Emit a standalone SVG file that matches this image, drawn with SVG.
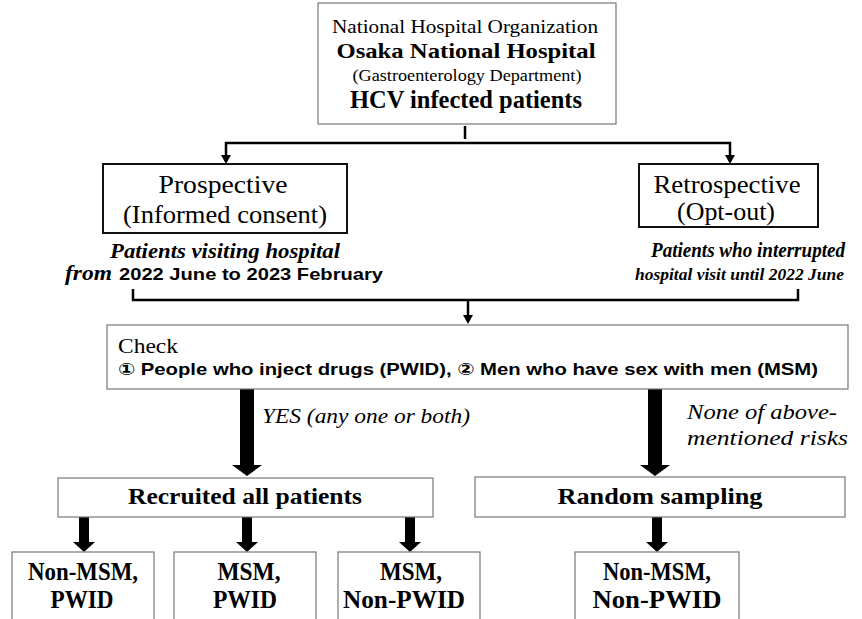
<svg xmlns="http://www.w3.org/2000/svg" width="862" height="619" viewBox="0 0 862 619">
<style>
.box{fill:#fff;stroke:#777;stroke-width:1.2}
.bbox{fill:#fff;stroke:#111;stroke-width:2}
.serif{font-family:"Liberation Serif","DejaVu Serif",serif;fill:#000}
.sans{font-family:"Liberation Sans","DejaVu Sans","Noto Sans CJK JP",sans-serif;fill:#000;font-weight:bold}
.b{font-weight:bold}
.i{font-style:italic}
.ln{fill:none;stroke:#000;stroke-width:2.5}
.ar{fill:#000}
</style>
<rect width="862" height="619" fill="#fff"/>
<g id="connectors">
  <line class="ln" x1="465" y1="126" x2="465" y2="139" stroke-width="3"/>
  <polyline class="ln" points="226,157 226,143 730,143 730,157"/>
  <polygon class="ar" points="221,155 231,155 226,164"/>
  <polygon class="ar" points="725,155 735,155 730,164"/>
  <polyline class="ln" points="133,289 133,300 798,300 798,289"/>
  <line class="ln" x1="468" y1="300" x2="468" y2="316"/>
  <polygon class="ar" points="463,315 473,315 468,324"/>
  <polygon class="ar" points="240,389 254,389 254,465 262,465 247,476 232,465 240,465"/>
  <polygon class="ar" points="648,389 662,389 662,465 670,465 655,476 640,465 648,465"/>
  <polygon class="ar" points="79,517 89,517 89,542 95,542 84,552 73,542 79,542"/>
  <polygon class="ar" points="242,517 252,517 252,542 258,542 247,552 236,542 242,542"/>
  <polygon class="ar" points="405,517 415,517 415,542 421,542 410,552 399,542 405,542"/>
  <polygon class="ar" points="652,517 662,517 662,542 668,542 657,552 646,542 652,542"/>
</g>
<g id="n-top">
  <rect class="box" x="318" y="3" width="298" height="121" stroke="#666"/>
  <text class="serif" x="465" y="33" font-size="18" text-anchor="middle" textLength="266" lengthAdjust="spacingAndGlyphs">National Hospital Organization</text>
  <text class="serif b" x="466" y="58" font-size="22" text-anchor="middle" textLength="259" lengthAdjust="spacingAndGlyphs">Osaka National Hospital</text>
  <text class="serif" x="467" y="81" font-size="16" text-anchor="middle" textLength="229" lengthAdjust="spacingAndGlyphs">(Gastroenterology Department)</text>
  <text class="serif b" x="466" y="108" font-size="25" text-anchor="middle" textLength="232" lengthAdjust="spacingAndGlyphs">HCV infected patients</text>
</g>
<g id="n-prospective">
  <rect class="bbox" x="103" y="164" width="244" height="69"/>
  <text class="serif" x="223" y="193" font-size="26" text-anchor="middle" textLength="129" lengthAdjust="spacingAndGlyphs">Prospective</text>
  <text class="serif" x="225" y="223" font-size="26" text-anchor="middle" textLength="204" lengthAdjust="spacingAndGlyphs">(Informed consent)</text>
  <text class="serif b i" x="225" y="258" font-size="21" text-anchor="middle" textLength="230" lengthAdjust="spacingAndGlyphs">Patients visiting hospital</text>
  <text class="serif b i" x="65" y="280" font-size="20" textLength="47" lengthAdjust="spacingAndGlyphs">from</text>
  <text class="sans" x="119" y="280" font-size="17" textLength="264" lengthAdjust="spacingAndGlyphs">2022 June to 2023 February</text>
</g>
<g id="n-retrospective">
  <rect class="bbox" x="639" y="164" width="179" height="63"/>
  <text class="serif" x="727" y="193" font-size="26" text-anchor="middle" textLength="147" lengthAdjust="spacingAndGlyphs">Retrospective</text>
  <text class="serif" x="726" y="220" font-size="26" text-anchor="middle" textLength="98" lengthAdjust="spacingAndGlyphs">(Opt-out)</text>
  <text class="serif b i" x="845" y="257" font-size="20" text-anchor="end" textLength="194" lengthAdjust="spacingAndGlyphs">Patients who interrupted</text>
  <text class="serif b i" x="844" y="280" font-size="17.5" text-anchor="end">hospital visit until 2022 June</text>
</g>
<g id="n-check">
  <rect class="box" x="107" y="325" width="741" height="64"/>
  <text class="serif" x="118" y="353" font-size="22" textLength="60" lengthAdjust="spacingAndGlyphs">Check</text>
  <text class="sans" x="118" y="375" font-size="17" textLength="700" lengthAdjust="spacingAndGlyphs">① People who inject drugs (PWID), ② Men who have sex with men (MSM)</text>
</g>
<g id="l-yes">
  <text class="serif i" x="262" y="423" font-size="21" textLength="208" lengthAdjust="spacingAndGlyphs">YES (any one or both)</text>
</g>
<g id="l-none">
  <text class="serif i" x="687" y="419" font-size="22" textLength="150" lengthAdjust="spacingAndGlyphs">None of above-</text>
  <text class="serif i" x="687" y="445" font-size="22" textLength="161" lengthAdjust="spacingAndGlyphs">mentioned risks</text>
</g>
<g id="n-recruited">
  <rect class="box" x="58" y="478" width="375" height="39"/>
  <text class="serif b" x="245" y="504" font-size="23" text-anchor="middle" textLength="234" lengthAdjust="spacingAndGlyphs">Recruited all patients</text>
</g>
<g id="n-random">
  <rect class="box" x="475" y="477" width="370" height="40"/>
  <text class="serif b" x="660" y="504" font-size="23" text-anchor="middle" textLength="205" lengthAdjust="spacingAndGlyphs">Random sampling</text>
</g>
<g id="n-g1">
  <rect class="box" x="12" y="552" width="142" height="80"/>
  <text class="serif b" x="83" y="580" font-size="25" text-anchor="middle" textLength="110" lengthAdjust="spacingAndGlyphs">Non-MSM,</text>
  <text class="serif b" x="82" y="608" font-size="25" text-anchor="middle" textLength="63" lengthAdjust="spacingAndGlyphs">PWID</text>
</g>
<g id="n-g2">
  <rect class="box" x="174" y="552" width="142" height="80"/>
  <text class="serif b" x="249" y="580" font-size="25" text-anchor="middle" textLength="63" lengthAdjust="spacingAndGlyphs">MSM,</text>
  <text class="serif b" x="245" y="608" font-size="25" text-anchor="middle" textLength="64" lengthAdjust="spacingAndGlyphs">PWID</text>
</g>
<g id="n-g3">
  <rect class="box" x="338" y="552" width="142" height="80"/>
  <text class="serif b" x="411" y="580" font-size="25" text-anchor="middle" textLength="62" lengthAdjust="spacingAndGlyphs">MSM,</text>
  <text class="serif b" x="404" y="608" font-size="25" text-anchor="middle" textLength="122" lengthAdjust="spacingAndGlyphs">Non-PWID</text>
</g>
<g id="n-g4">
  <rect class="box" x="575" y="552" width="164" height="80"/>
  <text class="serif b" x="657" y="580" font-size="25" text-anchor="middle" textLength="108" lengthAdjust="spacingAndGlyphs">Non-MSM,</text>
  <text class="serif b" x="657" y="608" font-size="25" text-anchor="middle" textLength="129" lengthAdjust="spacingAndGlyphs">Non-PWID</text>
</g>
</svg>
